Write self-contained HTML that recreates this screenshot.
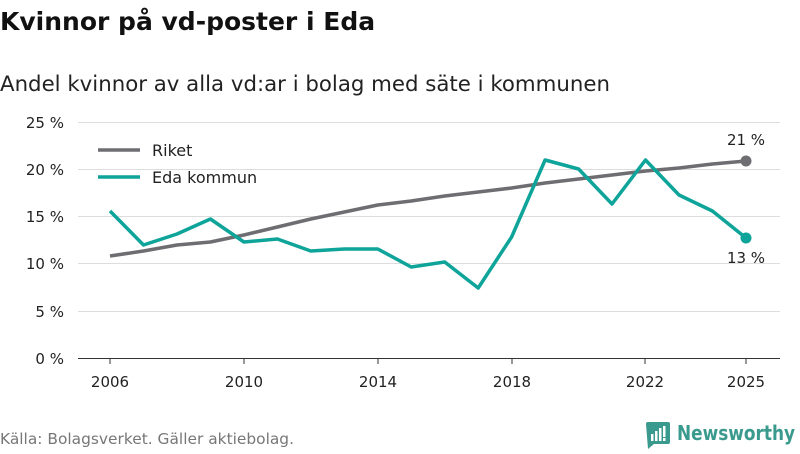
<!DOCTYPE html>
<html><head><meta charset="utf-8"><style>
body{margin:0;width:800px;height:450px;background:#fff;font-family:"DejaVu Sans","Liberation Sans",sans-serif;overflow:hidden}
</style></head><body>
<svg width="800" height="450" xmlns="http://www.w3.org/2000/svg" font-family="DejaVu Sans, Liberation Sans, sans-serif">
<text x="0" y="30" font-size="25" font-weight="bold" fill="#111">Kvinnor på vd-poster i Eda</text>
<text x="0" y="91" font-size="21" fill="#222" textLength="610" lengthAdjust="spacingAndGlyphs">Andel kvinnor av alla vd:ar i bolag med säte i kommunen</text>
<g stroke="#ddd" stroke-width="1">
<line x1="78" x2="780" y1="122.5" y2="122.5"/><line x1="78" x2="780" y1="169.5" y2="169.5"/><line x1="78" x2="780" y1="216.5" y2="216.5"/><line x1="78" x2="780" y1="263.5" y2="263.5"/><line x1="78" x2="780" y1="311.5" y2="311.5"/>
</g>
<line x1="78" x2="780" y1="358.5" y2="358.5" stroke="#333" stroke-width="1"/>
<g stroke="#333"><line x1="110" x2="110" y1="358" y2="364"/><line x1="244" x2="244" y1="358" y2="364"/><line x1="378" x2="378" y1="358" y2="364"/><line x1="512" x2="512" y1="358" y2="364"/><line x1="645" x2="645" y1="358" y2="364"/><line x1="746" x2="746" y1="358" y2="364"/></g>
<g font-size="15" fill="#222" text-anchor="end">
<text x="64" y="128">25 %</text><text x="64" y="175">20 %</text><text x="64" y="222">15 %</text><text x="64" y="269">10 %</text><text x="64" y="317">5 %</text><text x="64" y="364">0 %</text>
</g>
<g font-size="15" fill="#222" text-anchor="middle">
<text x="110" y="387">2006</text><text x="244" y="387">2010</text><text x="378" y="387">2014</text><text x="512" y="387">2018</text><text x="645" y="387">2022</text><text x="746" y="387">2025</text>
</g>
<polyline fill="none" stroke="#6e6d72" stroke-width="3.5" stroke-linejoin="round" points="110,256 143.5,251 177,245 210.4,242 243.9,235 277.4,227 310.8,219 344.3,212 377.8,205 411.2,201 444.7,196 478.2,192 511.6,188 545.1,183 578.6,179 612,175 645.5,171 679,168 712.4,164 746,161"/>
<polyline fill="none" stroke="#0ea49a" stroke-width="3.5" stroke-linejoin="round" points="110,211 143.5,245 177,234 210.4,219 243.9,242 277.4,239 310.8,251 344.3,249 377.8,249 411.2,267 444.7,262 478.2,288 511.6,237 545.1,160 578.6,169 612,204 645.5,160 679,195 712.4,211 746,238"/>
<circle cx="746" cy="161" r="5.5" fill="#6e6d72"/>
<circle cx="746" cy="238" r="5.5" fill="#0ea49a"/>
<text x="746" y="145" font-size="15" fill="#222" text-anchor="middle">21 %</text>
<text x="746" y="263" font-size="15" fill="#222" text-anchor="middle">13 %</text>
<line x1="98" x2="140" y1="150" y2="150" stroke="#6e6d72" stroke-width="3.5"/>
<text x="152" y="156" font-size="16" fill="#222">Riket</text>
<line x1="98" x2="140" y1="177" y2="177" stroke="#0ea49a" stroke-width="3.5"/>
<text x="152" y="183" font-size="16" fill="#222">Eda kommun</text>
<text x="0" y="444" font-size="15" fill="#777" textLength="294" lengthAdjust="spacingAndGlyphs">Källa: Bolagsverket. Gäller aktiebolag.</text>
<g transform="translate(646,422)">
<path d="M0,2 a2,2 0 0 1 2,-2 h20 a2,2 0 0 1 2,2 v18 a2,2 0 0 1 -2,2 h-14 l-6,5 z" fill="#3a9a8e"/>
<rect x="5" y="12" width="2.5" height="7" fill="#fff"/><rect x="9" y="9" width="2.5" height="10" fill="#fff"/><rect x="13" y="6" width="2.5" height="13" fill="#fff"/><rect x="17" y="4" width="2.5" height="11" fill="#fff"/><rect x="17" y="16" width="2.5" height="3" fill="#fff"/>
</g>
<text x="677" y="440" font-size="20" font-weight="bold" fill="#3a9a8e" textLength="118" lengthAdjust="spacingAndGlyphs">Newsworthy</text>
</svg>
</body></html>
